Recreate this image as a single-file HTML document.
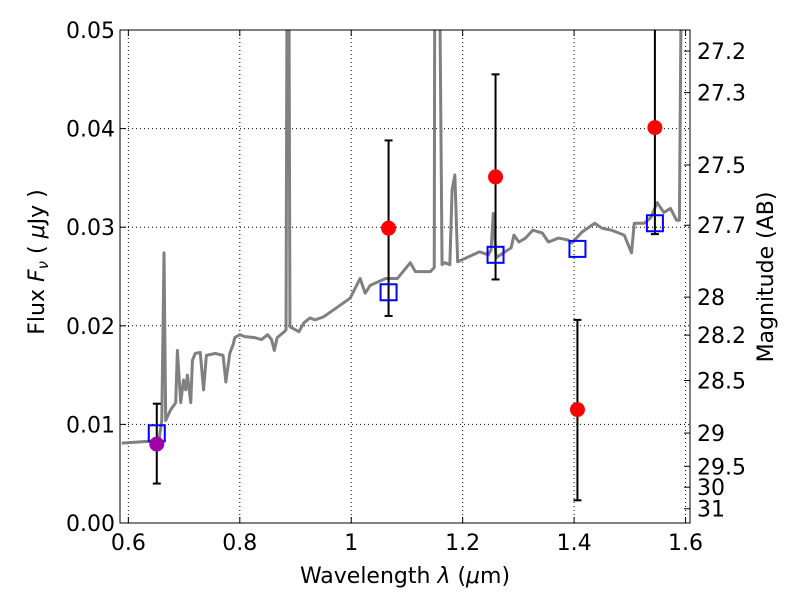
<!DOCTYPE html>
<html><head><meta charset="utf-8"><style>
body{margin:0;background:#fff}
svg text{font-family:"DejaVu Sans","Liberation Sans",sans-serif;fill:#000}
</style></head><body>
<svg id="c" width="800" height="600"></svg>
<script>
const specLam=[0.588,0.641,0.655,0.660,0.664,0.667,0.676,0.685,0.688,0.694,0.699,0.703,0.706,0.712,0.715,0.720,0.729,0.735,0.740,0.756,0.770,0.775,0.782,0.788,0.791,0.800,0.809,0.827,0.839,0.850,0.857,0.862,0.867,0.880,0.883,0.885,0.888,0.890,0.906,0.915,0.926,0.935,0.950,0.973,0.998,1.016,1.025,1.034,1.062,1.080,1.083,1.106,1.115,1.142,1.149,1.150,1.158,1.163,1.168,1.177,1.181,1.186,1.191,1.207,1.230,1.246,1.251,1.255,1.260,1.273,1.287,1.292,1.301,1.313,1.326,1.343,1.354,1.372,1.389,1.396,1.414,1.437,1.450,1.467,1.490,1.503,1.508,1.526,1.538,1.549,1.561,1.573,1.584,1.589,1.593];
const specFlux=[0.0081,0.0083,0.0084,0.0104,0.0274,0.0104,0.0115,0.0122,0.0175,0.0122,0.0145,0.0135,0.0150,0.0122,0.0165,0.0172,0.0173,0.0135,0.0170,0.0172,0.0170,0.0143,0.0172,0.0181,0.0188,0.0191,0.0189,0.0188,0.0186,0.0191,0.0186,0.0175,0.0188,0.0194,0.0196,0.06,0.06,0.0199,0.0194,0.0203,0.0208,0.0206,0.0209,0.0218,0.0228,0.0248,0.0233,0.0241,0.0248,0.0248,0.0248,0.0264,0.0255,0.0255,0.0259,0.06,0.06,0.0262,0.0264,0.0262,0.0338,0.0353,0.0265,0.0269,0.0275,0.0272,0.0277,0.0314,0.0269,0.0274,0.0279,0.0292,0.0285,0.0289,0.0297,0.0294,0.0285,0.0289,0.0287,0.0284,0.0295,0.0304,0.0299,0.0297,0.0292,0.0274,0.0304,0.0304,0.0310,0.0325,0.0315,0.0319,0.0307,0.0307,0.06];
const obsLam=[1.067,1.259,1.406,1.545];
const obsFlux=[0.0299,0.0351,0.0115,0.0401];
const obsLo=[0.0210,0.0247,0.0023,0.0293];
const obsHi=[0.0388,0.0455,0.0206,0.0600];
const hLam=[0.651];const hFlux=[0.0080];const hLo=[0.0040];const hHi=[0.0121];
const modLam=[0.651,1.067,1.259,1.406,1.545];
const modFlux=[0.0091,0.0234,0.0272,0.0278,0.0304];
const xTicks=[0.6,0.8,1,1.2,1.4,1.6];
const yTicks=[0,0.01,0.02,0.03,0.04,0.05];
const magTicks=[27.2,27.3,27.5,27.7,28,28.2,28.5,29,29.5,30,31];

const L=120,R=690,T=30,B=523,x0=0.585,x1=1.608;
const X=v=>L+(v-x0)/(x1-x0)*(R-L);
const Y=v=>B-v/0.05*(B-T);
const ns="http://www.w3.org/2000/svg",svg=document.getElementById('c');
function mk(t,a,p){const e=document.createElementNS(ns,t);for(const k in a)e.setAttribute(k,a[k]);(p||svg).appendChild(e);return e;}
const defs=mk('defs',{});const cp=mk('clipPath',{id:'cl'},defs);mk('rect',{x:L,y:T,width:R-L,height:B-T},cp);
xTicks.forEach(v=>{const g=mk('line',{x1:X(v),x2:X(v),y1:T,y2:B,stroke:'#000','stroke-dasharray':'1,3','stroke-width':1});
});
yTicks.forEach(v=>{const g=mk('line',{x1:L,x2:R,y1:Y(v),y2:Y(v),stroke:'#000','stroke-dasharray':'1,3','stroke-width':1});
});
const gp=mk('g',{'clip-path':'url(#cl)'});

const sp=mk('polyline',{points:specLam.map((l,i)=>X(l)+','+Y(specFlux[i])).join(' '),fill:'none',stroke:'#808080','stroke-width':3,'stroke-linejoin':'round'},gp);

function err(l,lo,hi,name){const x=X(l);const g=mk('g',{stroke:'#000','stroke-width':2},gp);

mk('line',{x1:x,x2:x,y1:Y(lo),y2:Y(hi)},g);mk('line',{x1:x-4,x2:x+4,y1:Y(lo),y2:Y(lo)},g);mk('line',{x1:x-4,x2:x+4,y1:Y(hi),y2:Y(hi)},g);}
obsLam.forEach((l,i)=>err(l,obsLo[i],obsHi[i],'error-bar'));
hLam.forEach((l,i)=>err(l,hLo[i],hHi[i],'error-bar'));
modLam.forEach((l,i)=>{const r=mk('rect',{x:X(l)-8,y:Y(modFlux[i])-8,width:16,height:16,fill:'none',stroke:'#0000ff','stroke-width':2},gp);
});
obsLam.forEach((l,i)=>{const c=mk('circle',{cx:X(l),cy:Y(obsFlux[i]),r:7.5,fill:'#ff0000'},gp);
});
hLam.forEach((l,i)=>{const c=mk('circle',{cx:X(l),cy:Y(hFlux[i]),r:7.5,fill:'#a000a8'},gp);
});
const fr=mk('rect',{x:L,y:T,width:R-L,height:B-T,fill:'none',stroke:'#000','stroke-width':1});

xTicks.forEach(v=>{mk('line',{x1:X(v),x2:X(v),y1:B,y2:B-6,stroke:'#000'});mk('line',{x1:X(v),x2:X(v),y1:T,y2:T+6,stroke:'#000'});
const t=mk('text',{x:X(v),y:B+27,'text-anchor':'middle','font-size':22});t.textContent=v;
});
yTicks.forEach(v=>{mk('line',{x1:L,x2:L+6,y1:Y(v),y2:Y(v),stroke:'#000'});
const t=mk('text',{x:L-5,y:Y(v)+8,'text-anchor':'end','font-size':22});t.textContent=v.toFixed(2);
});
magTicks.forEach(m=>{const f=Math.pow(10,(23.9-m)/2.5);const y=Y(f);mk('line',{x1:R,x2:R-6,y1:y,y2:y,stroke:'#000'});
const t=mk('text',{x:R+7,y:y+8,'font-size':22});t.textContent=m;
});
let t=mk('text',{x:405,y:583,'text-anchor':'middle','font-size':22});t.innerHTML='Wavelength  <tspan font-style="italic">λ</tspan> (<tspan font-style="italic">μ</tspan>m)';

t=mk('text',{x:0,y:0,'text-anchor':'middle','font-size':22,transform:'translate(44,262) rotate(-90)'});t.innerHTML='Flux  <tspan font-style="italic">F</tspan><tspan font-style="italic" font-size="15" dy="4">ν</tspan><tspan dy="-4">  (  </tspan><tspan font-style="italic">μ</tspan>Jy )';

t=mk('text',{x:0,y:0,'text-anchor':'middle','font-size':22,transform:'translate(773,277) rotate(-90)'});t.textContent='Magnitude (AB)';

</script>
</body></html>
